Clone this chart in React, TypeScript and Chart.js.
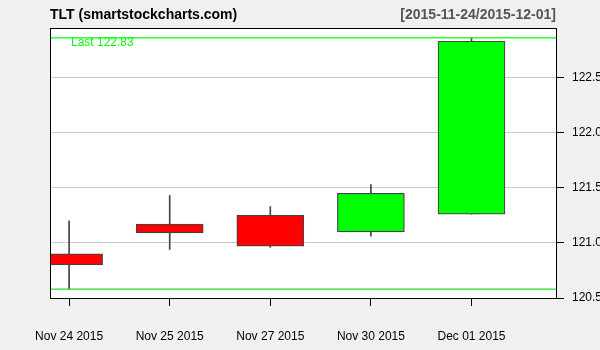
import React, { useEffect, useRef } from "react";
import { Chart, registerables } from "chart.js";

Chart.register(...registerables);

const categories = ["Nov 24 2015", "Nov 25 2015", "Nov 27 2015", "Nov 30 2015", "Dec 01 2015"];
const opens = [120.9, 121.17, 121.25, 121.1, 121.26];
const highs = [121.2, 121.43, 121.33, 121.53, 122.86];
const lows = [120.58, 120.94, 120.96, 121.06, 121.26];
const closes = [120.8, 121.09, 120.97, 121.45, 122.83];
const titleLeft = "TLT (smartstockcharts.com)";
const titleRight = "[2015-11-24/2015-12-01]";
const yMin = 120.5;
const yMax = 122.95;
const yStep = 0.5;
const xMin = -0.19;
const xMax = 4.84;

const FONT = "'Liberation Sans', Arial, sans-serif";

export default function App() {
  const ref = useRef<HTMLCanvasElement | null>(null);

  useEffect(() => {
    if (!ref.current) return;
    const idx = categories.map((_, i) => i);
    const maxHigh = Math.max(...highs);
    const minLow = Math.min(...lows);
    const last = closes[closes.length - 1];

    const framePlugin = {
      id: "frame",
      beforeDraw(chart: any) {
        const { ctx, chartArea: a } = chart;
        ctx.save();
        ctx.fillStyle = "#f0f0f0";
        ctx.fillRect(0, 0, chart.width, chart.height);
        ctx.fillStyle = "#ffffff";
        ctx.fillRect(a.left, a.top, a.right - a.left, a.bottom - a.top);
        ctx.restore();
      },
      afterDraw(chart: any) {
        const { ctx, chartArea: a } = chart;
        ctx.save();
        ctx.strokeStyle = "#000";
        ctx.lineWidth = 1;
        ctx.strokeRect(a.left + 0.5, a.top + 0.5, a.right - a.left, a.bottom - a.top);
        ctx.font = `bold 14px ${FONT}`;
        ctx.textBaseline = "middle";
        ctx.fillStyle = "#000";
        ctx.textAlign = "left";
        ctx.fillText(titleLeft, a.left, 15);
        ctx.fillStyle = "#555";
        ctx.textAlign = "right";
        ctx.fillText(titleRight, a.right, 15);
        ctx.font = `12px ${FONT}`;
        ctx.fillStyle = "#00ff00";
        ctx.textAlign = "left";
        const yy = chart.scales.y.getPixelForValue(maxHigh);
        ctx.fillText("Last " + last.toFixed(2), a.left + 21, yy + 5);
        ctx.restore();
      },
    };

    const chart = new Chart(ref.current, {
      type: "bar",
      data: {
        datasets: [
          {
            type: "line",
            data: [
              { x: xMin, y: maxHigh },
              { x: xMax, y: maxHigh },
            ],
            borderColor: "#00ff00",
            borderWidth: 1.2,
            pointRadius: 0,
            order: 0,
          } as any,
          {
            type: "line",
            data: [
              { x: xMin, y: minLow },
              { x: xMax, y: minLow },
            ],
            borderColor: "#22dd22",
            borderWidth: 1.2,
            pointRadius: 0,
            order: 0,
          } as any,
          {
            type: "bar",
            data: idx.map((i) => ({ x: i, y: [opens[i], closes[i]] })),
            backgroundColor: idx.map((i) => (closes[i] >= opens[i] ? "#00ff00" : "#ff0000")),
            borderColor: "#444444",
            borderWidth: 1.2,
            borderSkipped: false,
            barThickness: 67,
            grouped: false,
            clip: 0,
            order: 1,
          } as any,
          {
            type: "bar",
            data: idx.map((i) => ({ x: i, y: [lows[i], highs[i]] })),
            backgroundColor: "#444444",
            borderWidth: 0,
            barThickness: 1,
            grouped: false,
            clip: 0,
            order: 2,
          } as any,
        ],
      },
      options: {
        responsive: false,
        animation: false,
        layout: { padding: { left: 50, top: 28, right: 0, bottom: 0 } },
        plugins: { legend: { display: false }, tooltip: { enabled: false } },
        scales: {
          x: {
            type: "linear",
            min: xMin,
            max: xMax,
            offset: false,
            afterBuildTicks: (axis: any) => {
              axis.ticks = idx.map((v) => ({ value: v }));
            },
            afterFit: (axis: any) => {
              axis.height = 52;
            },
            grid: {
              offset: false,
              drawOnChartArea: false,
              drawTicks: true,
              tickLength: 8,
              tickColor: "#000",
              tickWidth: 1,
            },
            border: { display: false },
            ticks: {
              autoSkip: false,
              maxRotation: 0,
              padding: 23,
              color: "#000",
              font: { family: FONT, size: 12 },
              callback: (v: any) => categories[Math.round(Number(v))] ?? "",
            },
          },
          y: {
            type: "linear",
            position: "right",
            min: yMin,
            max: yMax,
            afterBuildTicks: (axis: any) => {
              const t = [];
              for (let v = yMin; v <= yMax + 1e-9; v += yStep) t.push({ value: Math.round(v * 10) / 10 });
              axis.ticks = t;
            },
            afterFit: (axis: any) => {
              axis.width = 44;
            },
            grid: {
              color: "#cccccc",
              lineWidth: 1,
              tickLength: 8,
              tickColor: "#000",
            },
            border: { display: false },
            ticks: {
              padding: 8,
              color: "#000",
              font: { family: FONT, size: 12 },
              callback: (v: any) => Number(v).toFixed(1),
            },
          },
        },
      },
      plugins: [framePlugin],
    });
    return () => chart.destroy();
  }, []);

  return (
    <div style={{ position: "fixed", left: 0, top: 0, width: 600, height: 350 }}>
      <canvas ref={ref} width={600} height={350} />
    </div>
  );
}
